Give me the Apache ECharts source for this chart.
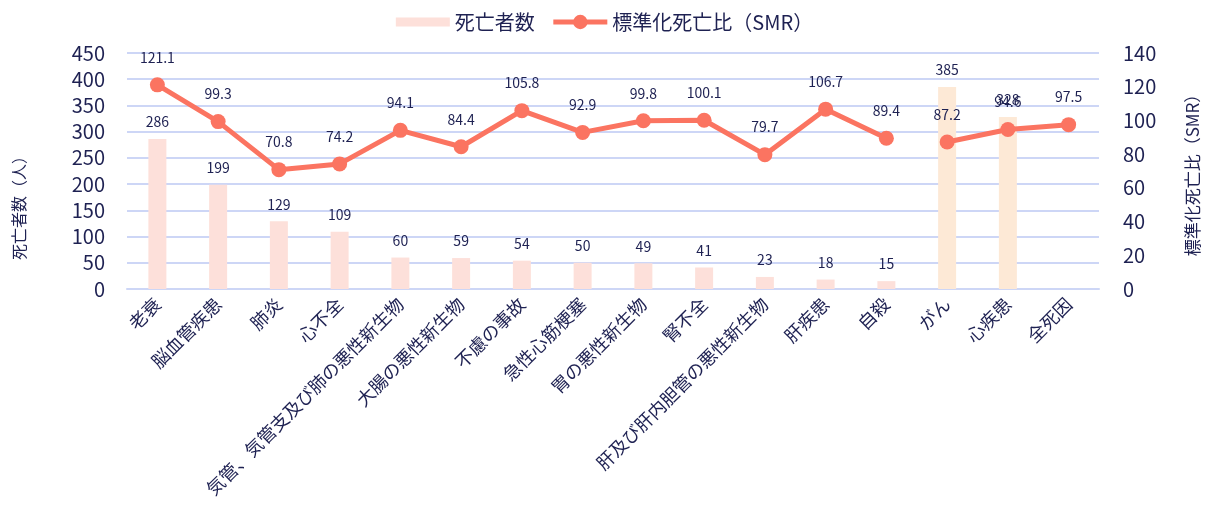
<!DOCTYPE html>
<html lang="ja">
<head>
<meta charset="utf-8">
<title>死亡者数と標準化死亡比</title>
<script src="https://cdn.jsdelivr.net/npm/echarts@6/dist/echarts.min.js"></script>
<style>
  html, body { margin: 0; padding: 0; background: #ffffff; }
  #chart { width: 1209px; height: 506px; }
</style>
</head>
<body>
<div id="chart"></div>
<script>
// 死因別の死亡者数と標準化死亡比(SMR)
const categories = ['老衰', '脳血管疾患', '肺炎', '心不全', '気管、気管支及び肺の悪性新生物', '大腸の悪性新生物', '不慮の事故', '急性心筋梗塞', '胃の悪性新生物', '腎不全', '肝及び肝内胆管の悪性新生物', '肝疾患', '自殺', 'がん', '心疾患', '全死因'];
const deaths = [286, 199, 129, 109, 60, 59, 54, 50, 49, 41, 23, 18, 15, 385, 328, null];
// 個別死因(老衰〜自殺)
const smrCauses = [121.1, 99.3, 70.8, 74.2, 94.1, 84.4, 105.8, 92.9, 99.8, 100.1, 79.7, 106.7, 89.4, null, null, null];
// 集計区分(がん・心疾患・全死因)
const smrGroups = [null, null, null, null, null, null, null, null, null, null, null, null, null, 87.2, 94.6, 97.5];
const leftTicks = { min: 0, max: 450, interval: 50 };
const rightTicks = { min: 0, max: 140, interval: 20 };

const TEXT = '#1e2152';
const BAR_PINK = '#fde0da';
const BAR_PEACH = '#fde9d6';
const LINE = '#fb7461';
const GRID = '#cdd6f6';
const FONT = '"Noto Sans CJK JP", "Noto Sans", sans-serif';
const groupStart = 13;
const SMR_NAME = '標準化死亡比（SMR）';

const chart = echarts.init(document.getElementById('chart'), null, { renderer: 'canvas' });

const lineSeries = (data) => ({
  name: SMR_NAME,
  type: 'line',
  yAxisIndex: 1,
  data: data,
  symbol: 'circle',
  symbolSize: 15,
  connectNulls: false,
  lineStyle: { color: LINE, width: 5 },
  itemStyle: { color: LINE },
  label: {
    show: true, position: 'top', distance: 13,
    color: TEXT, fontSize: 14, fontFamily: FONT,
    formatter: p => p.value.toFixed(1)
  },
  z: 3
});

chart.setOption({
  animation: false,
  textStyle: { fontFamily: FONT, color: TEXT },
  legend: {
    top: 7,
    left: 'center',
    itemGap: 16,
    itemWidth: 54,
    itemHeight: 18,
    textStyle: { fontSize: 20, color: TEXT, fontFamily: FONT },
    data: [
      { name: '死亡者数', icon: 'path://M0,0H54V9H0Z', itemStyle: { color: BAR_PINK } },
      { name: SMR_NAME, lineStyle: { width: 5, color: LINE } }
    ]
  },
  grid: { left: 127, right: 105, top: 53, bottom: 217 },
  xAxis: {
    type: 'category',
    data: categories,
    axisTick: { show: false },
    axisLine: { lineStyle: { color: GRID, width: 2 } },
    axisLabel: {
      interval: 0, rotate: 45, color: TEXT, fontSize: 18, fontFamily: FONT, margin: 12
    }
  },
  yAxis: [
    {
      type: 'value',
      min: leftTicks.min, max: leftTicks.max, interval: leftTicks.interval,
      name: '死亡者数（人）',
      nameLocation: 'middle',
      nameRotate: 90,
      nameGap: 100,
      nameTextStyle: { fontSize: 16, color: TEXT, padding: [0, 66, 0, 0] },
      axisLabel: { color: TEXT, fontSize: 20, margin: 22, fontFamily: FONT },
      axisTick: { show: false },
      axisLine: { show: false },
      splitLine: { lineStyle: { color: GRID, width: 2 } }
    },
    {
      type: 'value',
      min: rightTicks.min, max: rightTicks.max, interval: rightTicks.interval,
      name: SMR_NAME,
      nameLocation: 'middle',
      nameRotate: 90,
      nameGap: 85,
      nameTextStyle: { fontSize: 17, color: TEXT },
      axisLabel: { color: TEXT, fontSize: 20, margin: 24, fontFamily: FONT },
      axisTick: { show: false },
      axisLine: { show: false },
      splitLine: { show: false }
    }
  ],
  series: [
    {
      name: '死亡者数',
      type: 'bar',
      yAxisIndex: 0,
      barWidth: 18,
      data: deaths.map((v, i) => ({
        value: v,
        itemStyle: { color: i >= groupStart ? BAR_PEACH : BAR_PINK }
      })),
      label: {
        show: true, position: 'top', distance: 10,
        color: TEXT, fontSize: 14, fontFamily: FONT,
        formatter: p => (p.value == null ? '' : String(p.value))
      },
      z: 2
    },
    lineSeries(smrCauses),
    lineSeries(smrGroups)
  ]
});
</script>
</body>
</html>
